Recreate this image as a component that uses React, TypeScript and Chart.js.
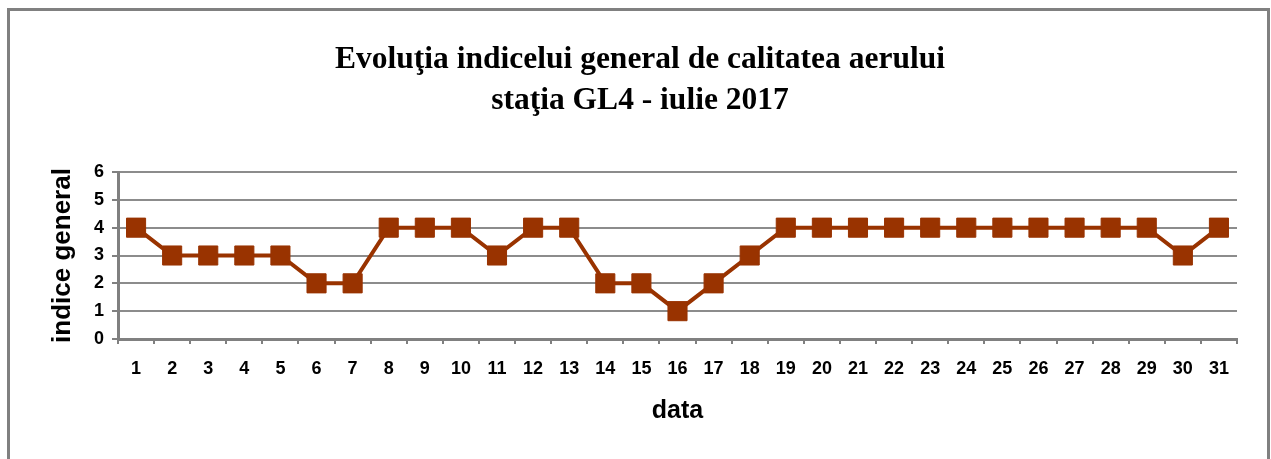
import React, { useEffect, useRef } from "react";
import { Chart, registerables } from "chart.js";

Chart.register(...registerables);

const days: string[] = [
  "1", "2", "3", "4", "5", "6", "7", "8", "9", "10",
  "11", "12", "13", "14", "15", "16", "17", "18", "19", "20",
  "21", "22", "23", "24", "25", "26", "27", "28", "29", "30", "31",
];
const indiceGeneral: number[] = [
  4, 3, 3, 3, 3, 2, 2, 4, 4, 4,
  3, 4, 4, 2, 2, 1, 2, 3, 4, 4,
  4, 4, 4, 4, 4, 4, 4, 4, 4, 3, 4,
];
const titleLines: string[] = [
  "Evoluţia indicelui general de calitatea aerului",
  "staţia GL4 - iulie 2017",
];
const yTitle = "indice general";
const xTitle = "data";

const W = 1271;
const H = 459;

export default function App() {
  const ref = useRef<HTMLCanvasElement | null>(null);

  useEffect(() => {
    if (!ref.current) return;
    const tickFont = { family: "'Liberation Sans', Arial, sans-serif", size: 18, weight: "bold" as const };
    const yTitleFont = { family: "'Liberation Sans', Arial, sans-serif", size: 26, weight: "bold" as const };
    const xTitleFont = { family: "'Liberation Sans', Arial, sans-serif", size: 25, weight: "bold" as const };
    const chart = new Chart(ref.current, {
      type: "line",
      data: {
        labels: days,
        datasets: [
          {
            label: yTitle,
            data: indiceGeneral,
            borderColor: "#993300",
            backgroundColor: "#993300",
            borderWidth: 4,
            pointStyle: "rect",
            pointRadius: 13.5,
            pointBorderWidth: 1,
            pointBackgroundColor: "#993300",
            pointBorderColor: "#993300",
            tension: 0,
          },
        ],
      },
      options: {
        animation: false,
        responsive: false,
        devicePixelRatio: 1,
        layout: { padding: { left: 43, right: 34, top: 0, bottom: 0 } },
        plugins: {
          legend: { display: false },
          tooltip: { enabled: false },
          title: {
            display: true,
            text: titleLines,
            color: "#000000",
            font: { family: "'Liberation Serif', 'Times New Roman', serif", size: 31.5, weight: "bold", lineHeight: "41px" },
            padding: { top: 39.5, bottom: 50.5 },
          },
        },
        scales: {
          x: {
            offset: true,
            afterFit: (scale: any) => {
              scale.height = 120;
            },
            grid: {
              offset: true,
              drawOnChartArea: true,
              drawTicks: true,
              tickLength: 5,
              lineWidth: 2,
              color: (ctx: any) => (ctx.index === days.length ? "#808080" : "rgba(0,0,0,0)"),
              tickColor: "#808080",
            },
            border: { display: true, color: "#808080", width: 3 },
            ticks: {
              color: "#000000",
              font: tickFont,
              padding: 14,
              autoSkip: false,
              maxRotation: 0,
            },
            title: {
              display: true,
              text: xTitle,
              color: "#000000",
              font: xTitleFont,
              padding: { top: 0, bottom: 33 },
            },
          },
          y: {
            min: 0,
            max: 6,
            afterFit: (scale: any) => {
              scale.width = 75;
            },
            grid: {
              color: "#8c8c8c",
              lineWidth: 2,
              tickLength: 6,
              tickColor: "#808080",
            },
            border: { display: true, color: "#808080", width: 3 },
            ticks: {
              stepSize: 1,
              color: "#000000",
              font: tickFont,
              padding: 8,
            },
            title: {
              display: true,
              text: yTitle,
              color: "#000000",
              font: yTitleFont,
              padding: { top: 4.4, bottom: 0 },
            },
          },
        },
      },
    });
    return () => chart.destroy();
  }, []);

  return (
    <>
      <canvas
        ref={ref}
        width={W}
        height={H}
        style={{ position: "fixed", left: 0, top: 0, width: W, height: H, display: "block" }}
      />
      <div
        style={{
          position: "fixed",
          left: 7,
          top: 8,
          width: 1263,
          height: 470,
          boxSizing: "border-box",
          border: "3px solid #808080",
          pointerEvents: "none",
        }}
      />
    </>
  );
}
